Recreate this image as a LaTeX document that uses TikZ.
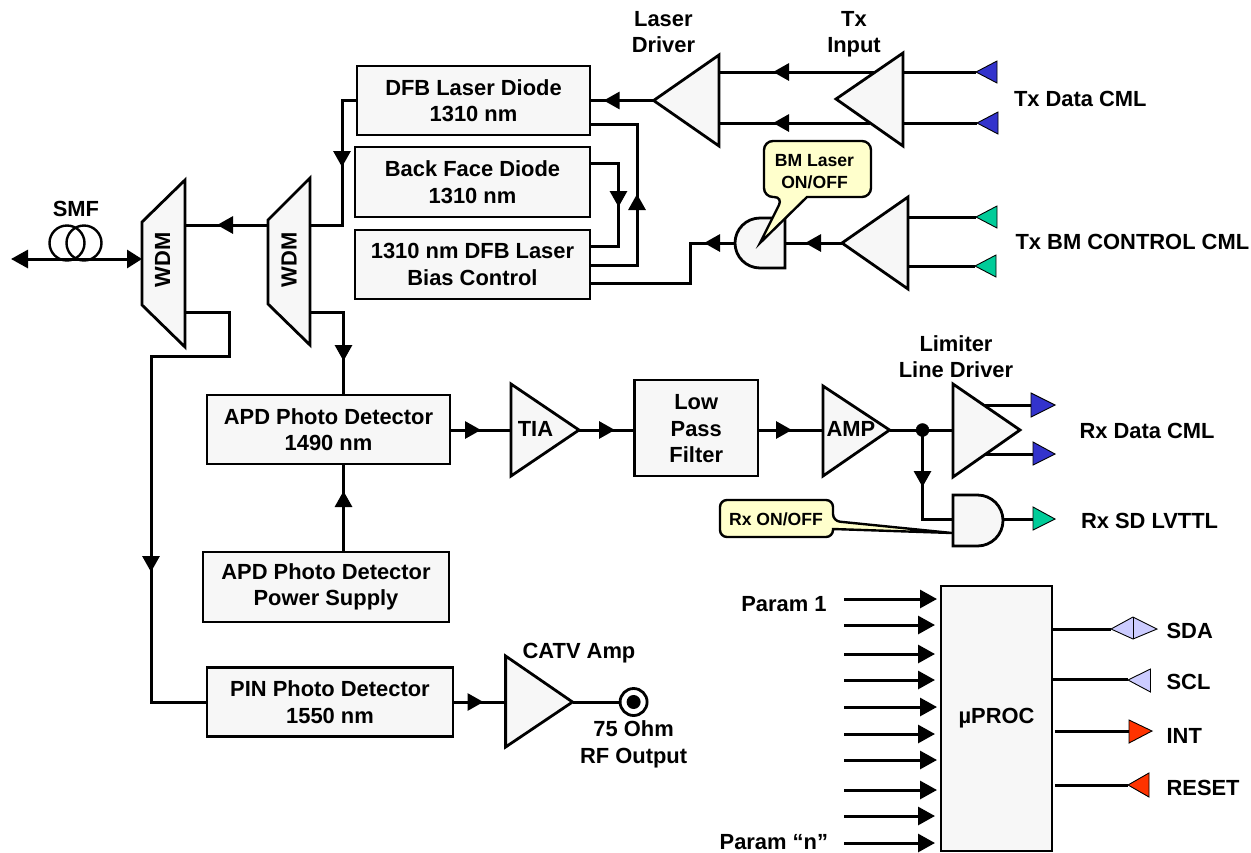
\documentclass[tikz,border=0pt]{standalone}
\usepackage{fontspec}
\setmainfont{Liberation Sans}
\usetikzlibrary{arrows.meta,decorations.markings}
\definecolor{partgray}{HTML}{F7F7F7}
\definecolor{noteyellow}{HTML}{FFFFCC}
\definecolor{padblue}{HTML}{3333CC}
\definecolor{padgreen}{HTML}{00CC99}
\definecolor{padlilac}{HTML}{CCCCFF}
\definecolor{padred}{HTML}{FF3300}
\tikzset{
  every node/.style={inner sep=0pt, outer sep=0pt, font=\fontsize{21.9}{26.5}\selectfont\bfseries, align=center},
  partbox/.style={draw=black, fill=partgray, line width=2.8pt, line join=miter},
  wire/.style={draw=black, line width=3pt},
  midtip/.style={decoration={markings, mark=at position #1 with {\arrow{Triangle[length=16pt,width=17pt]}}}, postaction={decorate}},
  bigtip/.style={-{Triangle[length=17pt,width=18pt]}},
  pad/.style={draw=black, line width=0.9pt, fill=#1},
  notebox/.style={draw=black, fill=noteyellow, line width=2.4pt},
  notetext/.style={font=\fontsize{17.6}{22}\selectfont\bfseries},
  coil/.style={draw=black, circle, line width=2.4pt, minimum size=35pt}
}
\begin{document}
\begin{tikzpicture}[x=1pt,y=-1pt]
\useasboundingbox (0,0) rectangle (1251,852);
% boxes
\node[partbox, minimum width=233pt, minimum height=69pt] (dfb) at (473.5,100.5) {DFB Laser Diode\\1310 nm};
\node[partbox, minimum width=235pt, minimum height=70pt] (backface) at (472.5,182) {Back Face Diode\\1310 nm};
\node[partbox, minimum width=235pt, minimum height=69pt] (bias) at (472.5,264.5) {1310 nm DFB Laser\\Bias Control};
\node[partbox, minimum width=243pt, minimum height=69pt] (apd) at (328.5,429.5) {APD Photo Detector\\1490 nm};
\node[partbox, minimum width=246pt, minimum height=70pt] (supply) at (326,587) {APD Photo Detector\\Power Supply};
\node[partbox, minimum width=246pt, minimum height=69pt] (pin) at (330,702) {PIN Photo Detector\\1550 nm};
\node[partbox, minimum width=123.5pt, minimum height=96pt] (lpf) at (696.25,428) {\rule{0pt}{17pt}Low\\Pass\\Filter};
\node[partbox, minimum width=111pt, minimum height=265pt] (proc) at (996.5,718.5) {µPROC};
% wdm
\draw[partbox] (142,222) -- (185,180) -- (185,347) -- (142,305) -- cycle;
\draw[partbox] (268,220) -- (310,178) -- (310,345) -- (268,304) -- cycle;
\node[rotate=90] (wdmatext) at (162.5,260) {WDM};
\node[rotate=90] (wdmbtext) at (289,260) {WDM};
\coordinate (wdmain) at (142,259);
\coordinate (wdmaout) at (185,225);
\coordinate (wdmadrop) at (185,312);
\coordinate (wdmbin) at (268,225);
\coordinate (wdmbout) at (310,225);
\coordinate (wdmbdrop) at (310,312);
% triangles
\draw[partbox] (719,55) -- (653.6,100.5) coordinate (drvtip) -- (719,146) -- cycle;
\draw[partbox] (903,53) -- (836,99) -- (903,146) -- cycle;
\draw[partbox] (908,197) -- (842,243) coordinate (bmtip) -- (908,289) -- cycle;
\draw[partbox] (511,384) -- (579,430) coordinate (tiatip) -- (511,476) -- cycle;
\draw[partbox] (823,386) -- (889.6,430) coordinate (amptip) -- (823,476) -- cycle;
\draw[partbox] (953,384) -- (1020,430) -- (953,477) -- cycle;
\draw[partbox] (505.6,656) -- (572.5,702) coordinate (catvtip) -- (505.6,747) -- cycle;
\node (tiatext) at (535.5,429) {TIA};
\node (amptext) at (851,429) {AMP};
\coordinate (drvtopin) at (719,72);
\coordinate (drvbotin) at (719,123);
\coordinate (txtopin) at (875,72);
\coordinate (txbotin) at (870,123);
\coordinate (txtop) at (903,72);
\coordinate (txbot) at (903,123);
\coordinate (bmtop) at (908,217);
\coordinate (bmbot) at (908,266);
\coordinate (tiain) at (511,430);
\coordinate (ampin) at (823,430);
\coordinate (limin) at (953,430);
\coordinate (limtop) at (984,405);
\coordinate (limbot) at (986,454);
\coordinate (catvin) at (505.6,702);
% gates
\draw[partbox] (785,218) -- (760,218) arc[start angle=-90, end angle=-270, radius=25] -- (785,268) -- cycle;
\draw[partbox] (953,495) -- (977.5,495) arc[start angle=-90, end angle=90, radius=25.5] -- (953,546) -- cycle;
\coordinate (bmgatein) at (785,243);
\coordinate (bmgateout) at (735,243);
\coordinate (sdgatein) at (953,519);
\coordinate (sdgateout) at (1003,519);
% pads
\draw[pad=padblue] (976,72) coordinate (padatx) -- (997,61) -- (997,83) -- cycle;
\draw[pad=padblue] (977,123) coordinate (padbtx) -- (998,112) -- (998,134) -- cycle;
\draw[pad=padgreen] (976,217) coordinate (padabm) -- (997,206) -- (997,228) -- cycle;
\draw[pad=padgreen] (975,266) coordinate (padbbm) -- (996,255) -- (996,277) -- cycle;
\draw[pad=padblue] (1031,393) -- (1055,405) -- (1031,417) -- cycle;
\draw[pad=padblue] (1033,442) -- (1055,454) -- (1033,465) -- cycle;
\draw[pad=padgreen] (1033,507) -- (1055,519) -- (1033,530) -- cycle;
\draw[pad=padlilac] (1133,617) -- (1111,629) -- (1133,639) -- (1157,629) -- cycle;
\draw[pad=padlilac] (1133,617) -- (1133,639);
\draw[pad=padlilac] (1128,680) -- (1150.5,669) -- (1150.5,692) -- cycle;
\draw[pad=padred] (1129,720) -- (1152,731) -- (1129,743) -- cycle;
\draw[pad=padred] (1128,785) -- (1149,773) -- (1149,797) -- cycle;
% fibre
\node[coil] (coila) at (67,243) {};
\node[coil] (coilb) at (84,243) {};
\coordinate (fibre) at (11,259);
\draw[wire, {Triangle[length=17pt,width=18pt]}-{Triangle[length=15pt,width=18pt]}] (fibre) -- (wdmain);
% wires
\draw[wire, midtip=51pt] (wdmbin) -- (wdmaout);
\draw[wire, midtip=81.5pt] (dfb.west) -| (342,225) -- (wdmbout);
\draw[wire, midtip=82.5pt] (wdmbdrop) -| (apd.north -| 343.5,0);
\draw[wire, midtip=61pt] (supply.north -| 343.5,0) -- (apd.south -| 343.5,0);
\draw[wire, midtip=382pt] (wdmadrop) -- (229,312) -- (229,356) -- (151,356) -- (151,702) -- (pin.west);
\draw[wire, midtip=50pt] (drvtip) -- (dfb.east);
\draw[wire, midtip=118pt] (bias.east |- 0,265) -- (637,265) -- (637,124) -- (dfb.east |- 0,124);
\draw[wire, midtip=72.5pt] (backface.east |- 0,163) -- (618.5,163) -- (618.5,246) -- (bias.east |- 0,246);
\draw[wire, midtip=31pt] (bmgateout) -- (690,243) -- (690,283) -- (bias.east |- 0,283);
\draw[wire, midtip=37pt] (bmtip) -- (bmgatein);
\draw[wire, midtip=102pt] (txtopin) -- (drvtopin);
\draw[wire, midtip=97pt] (txbotin) -- (drvbotin);
\draw[wire] (txtop) -- (padatx);
\draw[wire] (txbot) -- (padbtx);
\draw[wire] (bmtop) -- (padabm);
\draw[wire] (bmbot) -- (padbbm);
\draw[wire, midtip=31pt] (apd.east |- tiain) -- (tiain);
\draw[wire, midtip=36pt] (tiatip) -- (lpf.west |- tiatip);
\draw[wire, midtip=34pt] (lpf.east |- ampin) -- (ampin);
\draw[wire] (amptip) -- (limin);
\node[draw=black, fill=black, circle, minimum size=13pt] (jointdot) at (922.5,430) {};
\draw[wire, midtip=57pt] (jointdot.center) |- (sdgatein);
\draw[wire] (limtop) -- (1031,405);
\draw[wire] (limbot) -- (1033,454);
\draw[wire] (sdgateout) -- (1033,519);
\draw[wire, midtip=30.5pt] (pin.east) -- (catvin);
\node[draw=black, fill=white, circle, line width=2.8pt, minimum size=27pt] (rfout) at (633.6,702) {};
\node[fill=black, circle, minimum size=14pt] (rfdot) at (rfout.center) {};
\draw[wire] (catvtip) -- (rfout.west);
% uproc
\foreach \y/\g in {599/4,625/6,654/6,680/6,707/4,734/6,760/4,790/4,816/6,843/6}
{
  \coordinate (param\y) at (844,\y);
  \draw[wire, bigtip, shorten >=\g pt] (param\y) -- (proc.west |- param\y);
}
\draw[wire] (proc.east |- 0,629) -- (1111,629);
\draw[wire] (proc.east |- 0,679) -- (1128,679);
\draw[wire] (1055,731) -- (1129,731);
\draw[wire] (1055,785) -- (1128,785);
% callouts
\draw[notebox, rounded corners=9pt] (807,197) -- (871,197) -- (871,141) -- (764,141) -- (764,197) -- (783,197) [sharp corners] -- (760,243) -- cycle;
\node[notetext] (bmnote) at (814.5,172) {BM Laser\\ON/OFF};
\draw[notebox, rounded corners=7pt] (833,529) -- (833,537) -- (720,537) -- (720,500) -- (833,500) -- (833,521) [sharp corners] -- (952,533) -- cycle;
\node[notetext] (rxnote) at (776,519) {Rx ON/OFF};
% labels
\node (smflabel) at (76,209) {SMF};
\node (drvlabel) at (663.4,32) {Laser\\Driver};
\node (txlabel) at (854,34) {Tx\\Input};
\node[anchor=west] (txdata) at (1014,99) {Tx Data CML};
\node[anchor=west] (txbm) at (1015.6,242) {Tx BM CONTROL CML};
\node (limlabel) at (956,356.5) {Limiter\\Line Driver};
\node[anchor=west] (rxdata) at (1079.5,431) {Rx Data CML};
\node[anchor=west] (rxsd) at (1081,521) {Rx SD LVTTL};
\node (catvlabel) at (579,653) {CATV Amp};
\node (rflabel) at (633.6,744.5) {75 Ohm\\RF Output};
\node[anchor=east] (paramone) at (826.5,604) {Param 1};
\node[anchor=east] (paramlast) at (828,842) {Param “n”};
\node[anchor=west] (sdalabel) at (1166.6,631) {SDA};
\node[anchor=west] (scllabel) at (1166.6,682) {SCL};
\node[anchor=west] (intlabel) at (1166.6,736) {INT};
\node[anchor=west] (resetlabel) at (1166.6,788) {RESET};
\end{tikzpicture}
\end{document}
